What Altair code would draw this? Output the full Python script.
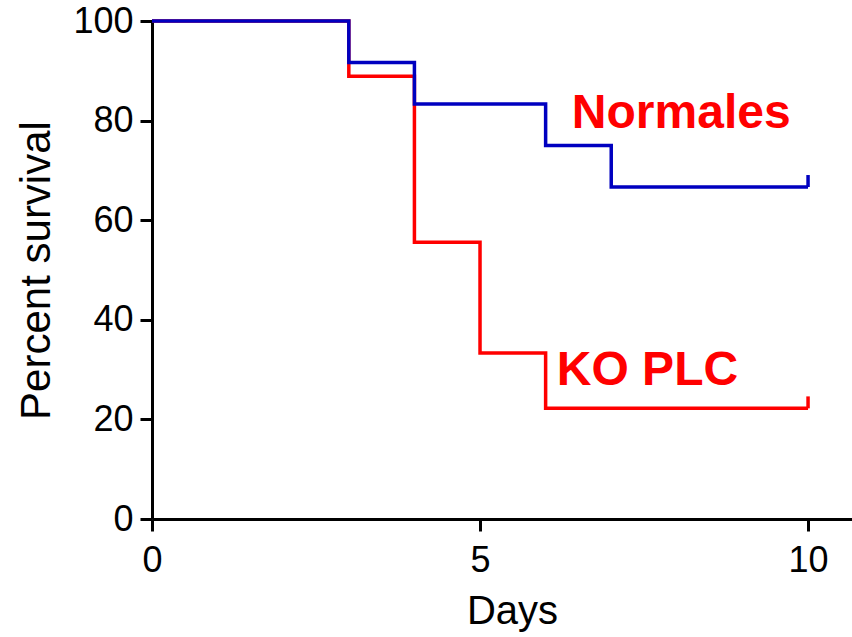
import altair as alt
import pandas as pd

# Kaplan-Meier steps
days_normales = [0, 3, 4, 6, 7, 10]
surv_normales = [100, 91.67, 83.33, 75.0, 66.67, 66.67]
days_ko = [0, 3, 4, 5, 6, 10]
surv_ko = [100, 88.89, 55.56, 33.33, 22.22, 22.22]

# censored at end of follow-up
censor_days = [10, 10]
censor_surv = [66.67, 22.22]
censor_group = ["Normales", "KO PLC"]

label_text = ["Normales", "KO PLC"]
label_x = [6.40, 6.17]
label_y = [78.5, 26.9]

x_ticks = [0, 5, 10]
y_ticks = [0, 20, 40, 60, 80, 100]

BLUE = "#0000C0"
RED = "#FF0000"

df = pd.concat([
    pd.DataFrame({"day": days_ko, "surv": surv_ko, "group": "KO PLC"}),
    pd.DataFrame({"day": days_normales, "surv": surv_normales, "group": "Normales"}),
])
cens = pd.DataFrame({"day": censor_days, "surv": censor_surv, "group": censor_group})
labels = pd.DataFrame({"text": label_text, "x": label_x, "y": label_y})

xscale = alt.Scale(domain=[0, 10.67], nice=False, zero=False)
yscale = alt.Scale(domain=[0, 100], nice=False)
color = alt.Color("group:N", scale=alt.Scale(domain=["Normales", "KO PLC"], range=[BLUE, RED]), legend=None)

x_axis = alt.Axis(values=x_ticks, format="d", title="Days", labelPadding=12, titlePadding=13,
                  labelFlush=False, titleX=360, titleFontSize=40, titleFontWeight="normal")
y_axis = alt.Axis(values=y_ticks, format="d", title="Percent survival", labelPadding=7, titlePadding=14,
                  labelFlush=False, titleFontSize=42, titleFontWeight="normal")

ko_line = alt.Chart(df[df.group == "KO PLC"]).mark_line(interpolate="step-after", strokeWidth=3.5, color=RED).encode(
    x=alt.X("day:Q", scale=xscale, axis=x_axis),
    y=alt.Y("surv:Q", scale=yscale, axis=y_axis),
)
norm_line = alt.Chart(df[df.group == "Normales"]).mark_line(interpolate="step-after", strokeWidth=3.5, color=BLUE).encode(
    x=alt.X("day:Q", scale=xscale),
    y=alt.Y("surv:Q", scale=yscale),
)
ticks = alt.Chart(cens).transform_calculate(top="datum.surv + 2.4").mark_rule(strokeWidth=3.5).encode(
    x=alt.X("day:Q", scale=xscale),
    y=alt.Y("surv:Q", scale=yscale),
    y2="top:Q",
    color=color,
)
text = alt.Chart(labels).mark_text(align="left", baseline="alphabetic", font="Liberation Sans",
                                   fontSize=48, fontWeight="bold", color=RED).encode(
    x=alt.X("x:Q", scale=xscale),
    y=alt.Y("y:Q", scale=yscale),
    text="text:N",
)

chart = (ko_line + norm_line + ticks + text).properties(
    width=700, height=498,
    autosize=alt.AutoSizeParams(type="none"),
    padding={"left": 152, "top": 21, "right": 0, "bottom": 118},
).configure_view(stroke=None).configure_axis(
    grid=False,
    domainColor="black", domainWidth=3,
    tickColor="black", tickWidth=3, tickSize=12,
    labelFont="Liberation Sans", labelFontSize=36, labelColor="black",
    titleFont="Liberation Sans", titleColor="black",
)

chart.save("out.html", embed_options={"renderer": "svg", "actions": False})
